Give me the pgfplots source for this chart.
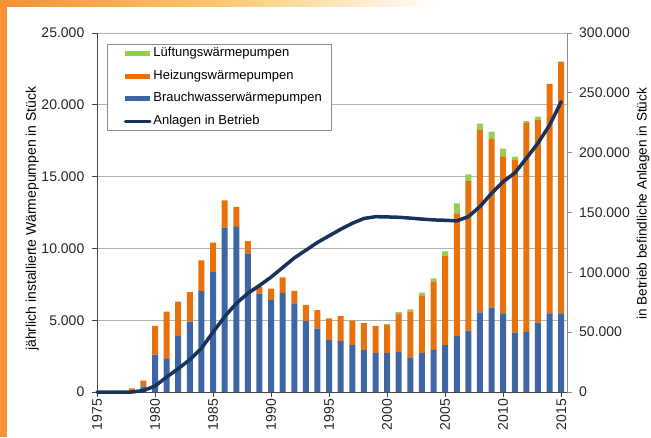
\documentclass[border=0pt]{standalone}
\usepackage{fontspec}
\setmainfont{Liberation Sans}
\usepackage{pgfplots}
\usepackage{pgfplotstable}
\pgfplotsset{compat=1.18}
\definecolor{cblue}{RGB}{62,102,164}
\definecolor{corange}{RGB}{232,113,12}
\definecolor{cgreen}{RGB}{146,208,80}
\definecolor{cnavy}{RGB}{24,50,92}
\definecolor{frameorange}{RGB}{246,146,52}
\definecolor{frameyellow}{RGB}{251,200,110}
\definecolor{gridgray}{RGB}{178,178,178}
\definecolor{axisdark}{RGB}{70,70,70}
\definecolor{axisgray}{RGB}{140,140,140}
\newcommand{\fs}{\fontsize{14}{16}\selectfont}
\newcommand{\fl}{\fontsize{13}{15}\selectfont}
\pgfplotstableread{
year blue orange green line
1975 0 0 0 0
1976 0 0 0 0
1977 0 0 0 0
1978 50 200 0 0
1979 400 400 0 1200
1980 2600 2000 0 5000
1981 2300 3300 0 12500
1982 3900 2400 0 19500
1983 4900 2050 0 27000
1984 7030 2140 0 36500
1985 8350 2050 0 50000
1986 11450 1900 0 63000
1987 11500 1400 0 74000
1988 9650 850 0 82500
1989 6850 450 0 89000
1990 6400 800 0 96000
1991 6900 1080 0 104000
1992 6170 880 0 112000
1993 4940 1120 0 118500
1994 4410 1300 0 125000
1995 3620 1510 0 130500
1996 3550 1740 0 136000
1997 3270 1700 0 141000
1998 2920 1880 0 145000
1999 2700 1900 0 146500
2000 2700 1950 80 146300
2001 2800 2680 90 146000
2002 2410 3200 140 145300
2003 2700 4030 190 144500
2004 2930 4780 210 143800
2005 3260 6210 330 143500
2006 3900 8540 700 143000
2007 4270 10420 470 146500
2008 5550 12700 440 155000
2009 5870 11750 510 166000
2010 5480 10930 540 175800
2011 4130 12070 190 183000
2012 4180 14570 120 195300
2013 4830 14110 230 208000
2014 5480 15970 0 223000
2015 5480 17520 0 242600
}\datatable
\begin{document}
\begin{tikzpicture}
\path[use as bounding box, fill=white] (-97pt,-45pt) rectangle (554pt,392pt);
\fill[frameorange] (-97pt,-45pt) rectangle (-90pt,392pt);
\shade[left color=frameorange, right color=white, middle color=frameyellow] (-90pt,385pt) rectangle (340pt,392pt);
\begin{axis}[
  scale only axis, width=470pt, height=359pt,
  xmin=1975, xmax=2015.5, ymin=0, ymax=25000,
  ybar stacked, bar width=6pt,
  axis x line*=bottom, axis y line*=left,
  axis line style={draw=axisdark, line width=0.8pt},
  tick align=outside, major tick length=5pt,
  tick style={draw=axisdark, line width=0.8pt},
  xtick={1975,1980,...,2015},
  ytick={0,5000,...,25000},
  scaled ticks=false,
  ymajorgrids, grid style={draw=gridgray, line width=0.8pt},
  xticklabel={\pgfmathprintnumber[assume math mode=true,fixed,precision=0,1000 sep={}]{\tick}},
  yticklabel={\pgfmathprintnumber[assume math mode=true,fixed,precision=0,1000 sep={.}]{\tick}},
  ticklabel style={font=\fs, text=black!85},
  xticklabel style={rotate=90, anchor=east, inner sep=2pt},
  yticklabel style={inner sep=7.5pt},
  every axis y label/.style={at={(axis description cs:-0.138,0.483)}, rotate=90, anchor=center, font=\fs},
  ylabel={jährlich installierte Wärmepumpen in Stück},
]
\addplot[fill=cblue, draw=none] table[x=year, y=blue] {\datatable};
\addplot[fill=corange, draw=none] table[x=year, y=orange] {\datatable};
\addplot[fill=cgreen, draw=none] table[x=year, y=green] {\datatable};
\end{axis}
\begin{axis}[
  scale only axis, width=470pt, height=359pt,
  xmin=1975, xmax=2015.5, ymin=0, ymax=300000,
  axis x line=none, axis y line*=right,
  axis line style={draw=axisgray, line width=0.8pt},
  tick align=outside, major tick length=5pt,
  tick style={draw=axisgray, line width=0.8pt},
  ytick={0,50000,...,300000},
  scaled ticks=false, clip=false,
  yticklabel={\pgfmathprintnumber[assume math mode=true,fixed,precision=0,1000 sep={.}]{\tick}},
  ticklabel style={font=\fs, text=black!85},
  yticklabel style={inner sep=7pt},
  every axis y label/.style={at={(axis description cs:1.162,0.524)}, rotate=90, anchor=center, font=\fontsize{13.6}{16}\selectfont},
  ylabel={in Betrieb befindliche Anlagen in Stück},
  legend style={at={(axis description cs:0.0213,0.969)}, anchor=north west,
    draw=axisgray, fill=white, font=\fl, inner xsep=9pt, inner ysep=3pt,
    row sep=10.7pt, nodes={inner sep=0pt, text height=9pt, text depth=3pt},
    /tikz/every odd column/.append style={column sep=2pt}},
  legend cell align=left,
]
\addlegendimage{legend image code/.code={\path[draw=none,fill=none] (0pt,0pt) -- (9pt,0pt); \fill[cgreen,draw=none] (9pt,-2.5pt) rectangle (34pt,2.5pt);}}
\addlegendentry{Lüftungswärmepumpen}
\addlegendimage{legend image code/.code={\path[draw=none,fill=none] (0pt,0pt) -- (9pt,0pt); \fill[corange,draw=none] (9pt,-2.5pt) rectangle (34pt,2.5pt);}}
\addlegendentry{Heizungswärmepumpen}
\addlegendimage{legend image code/.code={\path[draw=none,fill=none] (0pt,0pt) -- (9pt,0pt); \fill[cblue,draw=none] (9pt,-2.5pt) rectangle (34pt,2.5pt);}}
\addlegendentry{Brauchwasserwärmepumpen}
\addplot[cnavy, line width=3.5pt, line join=round, line cap=round,
  legend image code/.code={\path[draw=none,fill=none] (0pt,0pt) -- (9pt,0pt); \draw[cnavy, line width=2.5pt] (9pt,0pt) -- (34pt,0pt);}]
  table[x=year, y=line] {\datatable};
\addlegendentry{Anlagen in Betrieb}
\end{axis}
\end{tikzpicture}
\end{document}
